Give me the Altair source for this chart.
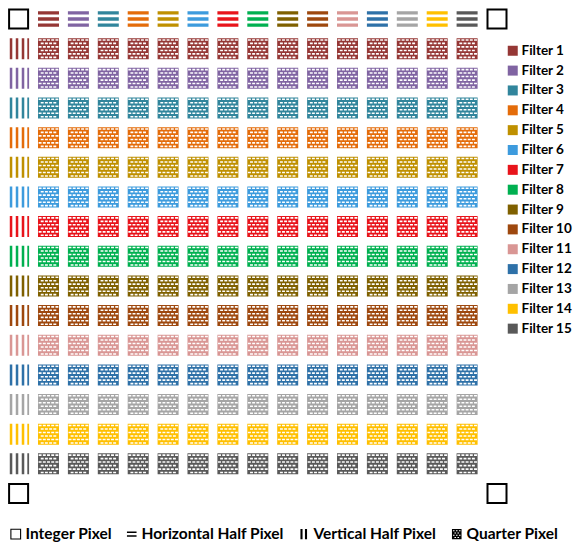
import altair as alt
import pandas as pd

# ---------------- data ----------------
filters = [f"Filter {i}" for i in range(1, 16)]
filter_colors = ["#953735", "#8064A2", "#31859C", "#E46C0A", "#BF9000",
                 "#3D9BDD", "#E8141B", "#00B050", "#7F6000", "#9E480E",
                 "#D99694", "#2E71A8", "#A5A5A5", "#FFC000", "#595959"]
pixel_types = ["Integer Pixel", "Horizontal Half Pixel", "Vertical Half Pixel", "Quarter Pixel"]

corner_cols = [0, 16, 0, 16]
corner_rows = [0, 0, 16, 16]
top_cols = list(range(1, 16))      # horizontal half pixels, one per filter
left_rows = list(range(1, 16))     # vertical half pixels, one per filter
grid_cols = list(range(1, 16))
grid_rows = list(range(1, 16))

corners = pd.DataFrame({"col": corner_cols, "row": corner_rows, "type": "Integer Pixel"})
top = pd.DataFrame({"col": top_cols, "row": [0] * 15, "filter": filters})
left = pd.DataFrame({"col": [0] * 15, "row": left_rows, "filter": filters})
quarter = pd.DataFrame([{"col": c, "row": r, "filter": filters[r - 1]}
                        for r in grid_rows for c in grid_cols])
legend_df = pd.DataFrame({"col": [-6] * 4, "row": [-6] * 4, "type": pixel_types})

# ---------------- glyph paths (style) ----------------
def box(x0, y0, x1, y1, hole=False):
    f = lambda v: f"{v:.3f}"
    if hole:
        return f"M{f(x0)},{f(y0)}L{f(x0)},{f(y1)}L{f(x1)},{f(y1)}L{f(x1)},{f(y0)}Z"
    return f"M{f(x0)},{f(y0)}L{f(x1)},{f(y0)}L{f(x1)},{f(y1)}L{f(x0)},{f(y1)}Z"

outline_path = box(-1, -1, 1, 1) + box(-0.81, -0.81, 0.81, 0.81, hole=True)
hpath = box(-1, -0.74, 1, -0.42) + box(-1, -0.16, 1, 0.16) + box(-1, 0.42, 1, 0.74)
vpath = (box(-0.84, -1, -0.6, 1) + box(-0.27, -1, -0.03, 1)
         + box(0.3, -1, 0.54, 1) + box(0.83, -1, 1.0, 1))

qpath = box(-1, -1, 1, 1)
for k, yc in enumerate([-0.83, -0.5, -0.17, 0.17, 0.5, 0.83]):
    xs = [-0.8, -0.4, 0.0, 0.4, 0.8] if k % 2 == 0 else [-0.6, -0.2, 0.2, 0.6]
    for xc in xs:
        qpath += box(xc - 0.14, yc - 0.075, xc + 0.14, yc + 0.075, hole=True)

leg_int = box(-0.9, -0.9, 0.9, 0.9) + box(-0.72, -0.72, 0.72, 0.72, hole=True)
leg_h = box(-0.8, -0.45, 0.8, -0.18) + box(-0.8, 0.18, 0.8, 0.45)
leg_v = box(-0.55, -0.85, -0.2, 0.85) + box(0.2, -0.85, 0.55, 0.85)
leg_q = box(-0.8, -0.85, 0.8, 0.85)
for k, yc in enumerate([-0.55, -0.18, 0.18, 0.55]):
    xs = [-0.5, 0.0, 0.5] if k % 2 == 0 else [-0.25, 0.25]
    for xc in xs:
        leg_q += box(xc - 0.13, yc - 0.09, xc + 0.13, yc + 0.09, hole=True)

# ---------------- scales ----------------
xs = alt.Scale(domain=[-0.3545, 16.301], nice=False, zero=False)
ys = alt.Scale(domain=[-0.3709, 16.421], nice=False, zero=False, reverse=True)
X = alt.X("col:Q", scale=xs, axis=None)
Y = alt.Y("row:Q", scale=ys, axis=None)

color = alt.Color(
    "filter:N",
    scale=alt.Scale(domain=filters, range=filter_colors),
    legend=alt.Legend(
        title=None, orient="none", legendX=498, legendY=36, padding=0,
        symbolType="square", symbolSize=100, symbolStrokeWidth=0,
        labelFont="Lato", labelFontWeight="bold", labelFontSize=13.5,
        labelColor="black", labelOffset=2, rowPadding=4.85,
    ),
)

CELL = 441

corner_layer = alt.Chart(corners).mark_point(
    shape=outline_path, filled=True, opacity=1, size=CELL, color="black"
).encode(x=X, y=Y)

top_layer = alt.Chart(top).mark_point(
    shape=hpath, filled=True, opacity=1, size=CELL
).encode(x=X, y=Y, color=color)

left_layer = alt.Chart(left).mark_point(
    shape=vpath, filled=True, opacity=1, size=CELL
).encode(x=X, y=Y, color=color)

quarter_layer = alt.Chart(quarter).mark_point(
    shape=qpath, filled=True, opacity=1, size=CELL
).encode(x=X, y=Y, color=color)

legend_layer = alt.Chart(legend_df).mark_point(
    filled=True, opacity=1, size=144, clip=True, color="black"
).encode(
    x=X, y=Y,
    shape=alt.Shape(
        "type:N",
        scale=alt.Scale(domain=pixel_types, range=[leg_int, leg_h, leg_v, leg_q]),
        legend=alt.Legend(
            title=None, orient="none", direction="horizontal", columns=4,
            legendX=0, legendY=518, padding=0,
            symbolSize=144, symbolFillColor="black", symbolStrokeWidth=0,
            labelFont="Lato", labelFontWeight="bold", labelFontSize=15.5,
            labelColor="black", labelOffset=2, columnPadding=12,
        ),
    ),
)

chart = alt.layer(
    corner_layer, top_layer, left_layer, quarter_layer, legend_layer
).resolve_scale(shape="independent").properties(
    width=498, height=498,
    autosize=alt.AutoSizeParams(type="none"),
    padding={"left": 0, "top": 0, "right": 68, "bottom": 36},
).configure_view(stroke=None)

chart.save("out.html", embed_options={"renderer": "svg", "actions": False})
